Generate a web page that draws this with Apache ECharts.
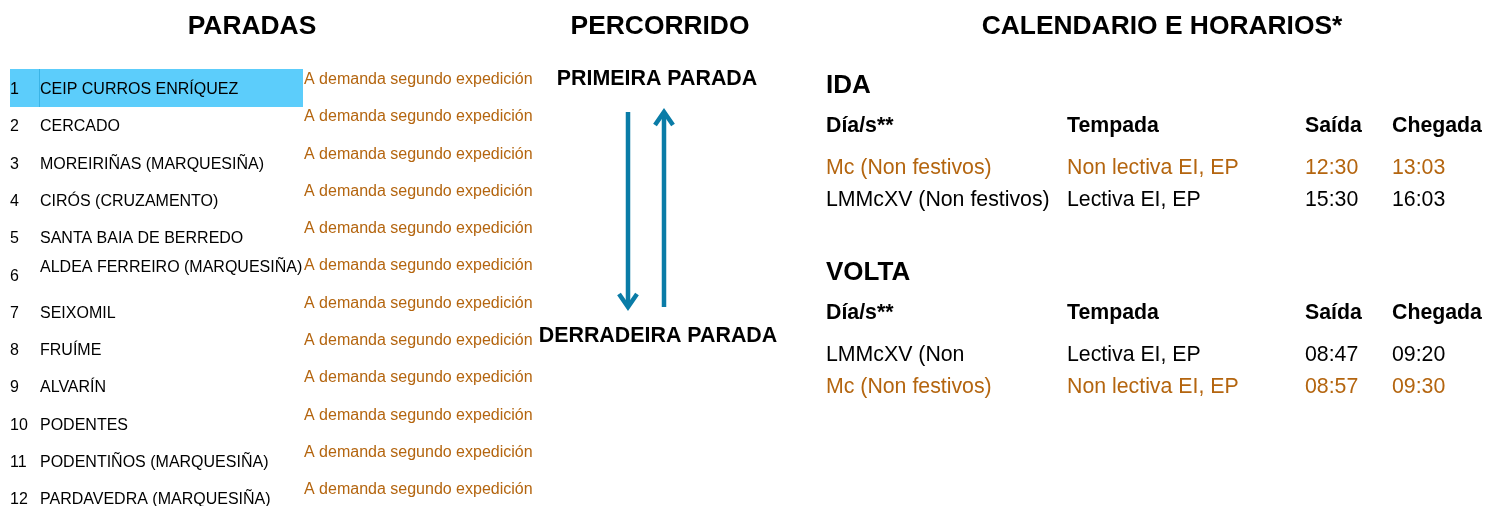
<!DOCTYPE html>
<html>
<head>
<meta charset="utf-8">
<script src="https://cdn.jsdelivr.net/npm/echarts@6/dist/echarts.min.js"></script>
<style>
html,body{margin:0;padding:0;background:#fff;}
#c{width:1485px;height:506px;}
</style>
</head>
<body>
<div id="c"></div>
<script>
// ---- data ----
var sectionTitles = ["PARADAS", "PERCORRIDO", "CALENDARIO E HORARIOS*"];
var stopNumbers = ["1","2","3","4","5","6","7","8","9","10","11","12"];
var stopNames = ["CEIP CURROS ENRÍQUEZ","CERCADO","MOREIRIÑAS (MARQUESIÑA)","CIRÓS (CRUZAMENTO)","SANTA BAIA DE BERREDO","ALDEA FERREIRO (MARQUESIÑA)","SEIXOMIL","FRUÍME","ALVARÍN","PODENTES","PODENTIÑOS (MARQUESIÑA)","PARDAVEDRA (MARQUESIÑA)"];
var stopNotes = ["A demanda segundo expedición","A demanda segundo expedición","A demanda segundo expedición","A demanda segundo expedición","A demanda segundo expedición","A demanda segundo expedición","A demanda segundo expedición","A demanda segundo expedición","A demanda segundo expedición","A demanda segundo expedición","A demanda segundo expedición","A demanda segundo expedición"];
var routeEnds = ["PRIMEIRA PARADA", "DERRADEIRA PARADA"];
var scheduleHeaders = ["Día/s**", "Tempada", "Saída", "Chegada"];
var idaTitle = "IDA";
var idaRows = [
  ["Mc (Non festivos)", "Non lectiva EI, EP", "12:30", "13:03"],
  ["LMMcXV (Non festivos)", "Lectiva EI, EP", "15:30", "16:03"]
];
var idaHighlight = [true, false];
var voltaTitle = "VOLTA";
var voltaRows = [
  ["LMMcXV (Non", "Lectiva EI, EP", "08:47", "09:20"],
  ["Mc (Non festivos)", "Non lectiva EI, EP", "08:57", "09:30"]
];
var voltaHighlight = [false, true];

// ---- styling / layout ----
var FONT = "'Liberation Sans', Arial, Helvetica, sans-serif";
var ORANGE = "#b4650f";
var BLUE = "#0a7ca7";
var HILITE = "#5ccdfb";

function txt(x, y, s, size, opts) {
  opts = opts || {};
  return {
    type: 'text',
    silent: true,
    style: {
      x: x, y: y, text: s,
      font: (opts.bold ? 'bold ' : '') + size + 'px ' + FONT,
      fill: opts.color || '#000',
      textAlign: opts.align || 'left',
      align: opts.align || 'left',
      textVerticalAlign: 'middle',
      verticalAlign: 'middle'
    }
  };
}

var els = [];
// section titles
var titleX = [252, 660, 1162];
sectionTitles.forEach(function (t, i) {
  els.push(txt(titleX[i], 26.5, t, 26.4, {bold: true, align: 'center'}));
});

// stop list
var rowY0 = 89.5, rowStep = 37.3;
els.push({type: 'rect', silent: true, shape: {x: 10, y: 69, width: 293, height: 38}, style: {fill: HILITE}});
els.push({type: 'line', silent: true, shape: {x1: 39.5, y1: 69, x2: 39.5, y2: 107}, style: {stroke: '#3ab4e6', lineWidth: 1}});
stopNames.forEach(function (name, i) {
  var y = rowY0 + i * rowStep;
  var wrapped = (name.length > 26);
  els.push(txt(10, y + (wrapped ? 1 : 0), stopNumbers[i], 16));
  els.push(txt(40, y - (wrapped ? 8 : 0), name, 16));
  els.push(txt(304, y - 10, stopNotes[i], 16, {color: ORANGE}));
});

// route
els.push(txt(657, 79.5, routeEnds[0], 21.4, {bold: true, align: 'center'}));
els.push(txt(658, 336, routeEnds[1], 21.4, {bold: true, align: 'center'}));
var arrowStyle = {stroke: BLUE, lineWidth: 4.5, lineCap: 'butt', lineJoin: 'miter'};
els.push({type: 'line', silent: true, shape: {x1: 628, y1: 112, x2: 628, y2: 306}, style: arrowStyle});
els.push({type: 'polyline', silent: true, shape: {points: [[619, 294], [628, 307], [637, 294]]}, style: arrowStyle});
els.push({type: 'line', silent: true, shape: {x1: 664, y1: 307, x2: 664, y2: 112}, style: arrowStyle});
els.push({type: 'polyline', silent: true, shape: {points: [[655, 125], [664, 112], [673, 125]]}, style: arrowStyle});

// schedule
var colX = [826, 1067, 1305, 1392];
function block(title, titleY, headY, rowYs, rows, hl) {
  els.push(txt(826, titleY, title, 26, {bold: true}));
  scheduleHeaders.forEach(function (h, j) {
    els.push(txt(colX[j], headY, h, 21.3, {bold: true}));
  });
  rows.forEach(function (r, i) {
    r.forEach(function (cell, j) {
      els.push(txt(colX[j], rowYs[i], cell, 21.3, {color: hl[i] ? ORANGE : '#000'}));
    });
  });
}
block(idaTitle, 86, 126, [168, 200], idaRows, idaHighlight);
block(voltaTitle, 273, 313, [355, 387], voltaRows, voltaHighlight);

var chart = echarts.init(document.getElementById('c'), null, {renderer: 'canvas'});
chart.setOption({
  backgroundColor: '#fff',
  animation: false,
  graphic: {elements: els}
});
</script>
</body>
</html>
